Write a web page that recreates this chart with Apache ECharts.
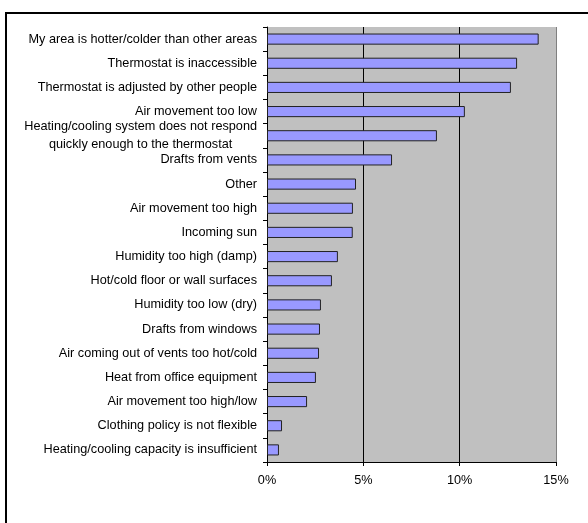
<!DOCTYPE html>
<html>
<head>
<meta charset="utf-8">
<script src="https://cdn.jsdelivr.net/npm/echarts@6/dist/echarts.min.js"></script>
<style>html,body{margin:0;padding:0;background:#fff;}#c{width:588px;height:523px;}</style>
</head>
<body>
<div id="c"></div>
<script>
const categories = [
  'My area is hotter/colder than other areas',
  'Thermostat is inaccessible',
  'Thermostat is adjusted by other people',
  'Air movement too low',
  'Heating/cooling system does not respond\nquickly enough to the thermostat',
  'Drafts from vents',
  'Other',
  'Air movement too high',
  'Incoming sun',
  'Humidity too high (damp)',
  'Hot/cold floor or wall surfaces',
  'Humidity too low (dry)',
  'Drafts from windows',
  'Air coming out of vents too hot/cold',
  'Heat from office equipment',
  'Air movement too high/low',
  'Clothing policy is not flexible',
  'Heating/cooling capacity is insufficient'
];
const values = [14.1, 12.98, 12.66, 10.27, 8.82, 6.49, 4.62, 4.46, 4.45, 3.68, 3.37, 2.80, 2.75, 2.70, 2.54, 2.08, 0.78, 0.62];
const xTicks = [0, 5, 10, 15];

const FONT = 'Liberation Sans, Arial, sans-serif';
const FS = 12.7;
const chart = echarts.init(document.getElementById('c'), null, {renderer: 'canvas'});
chart.setOption({
  animation: false,
  backgroundColor: '#ffffff',
  graphic: [{
    type: 'rect', z: 100,
    shape: {x: 6, y: 13, width: 700, height: 700},
    style: {fill: 'none', stroke: '#000', lineWidth: 2}
  }],
  grid: {left: 267, right: 32, top: 27, bottom: 61, show: true, backgroundColor: '#C0C0C0', borderWidth: 0},
  xAxis: {
    type: 'value', min: xTicks[0], max: xTicks[xTicks.length - 1], interval: 5,
    axisLine: {show: true, lineStyle: {color: '#000', width: 1}},
    axisTick: {show: true, length: 4, lineStyle: {color: '#000'}},
    splitLine: {show: true, lineStyle: {color: ['#000', '#000', '#000', '#808080'], width: 1}},
    axisLabel: {margin: 12, color: '#000', fontFamily: FONT, fontSize: FS, formatter: v => v + '%'}
  },
  yAxis: {
    type: 'category', data: categories, inverse: true,
    axisLine: {show: true, lineStyle: {color: '#000', width: 1}},
    axisTick: {show: true, length: 4, lineStyle: {color: '#000'}},
    axisLabel: {
      margin: 10, color: '#000', fontFamily: FONT, fontSize: FS, lineHeight: 18,
      formatter: function (v) {
        if (v.indexOf('\n') >= 0) {
          return v.split('\n').map(s => '{c|' + s + '}').join('\n');
        }
        return v;
      },
      rich: {c: {align: 'center', fontFamily: FONT, fontSize: FS, lineHeight: 18, color: '#000'}}
    }
  },
  series: [{
    type: 'bar', data: values, barCategoryGap: '54%',
    itemStyle: {color: '#9999FF', borderColor: '#222', borderWidth: 1}
  }]
});
</script>
</body>
</html>
